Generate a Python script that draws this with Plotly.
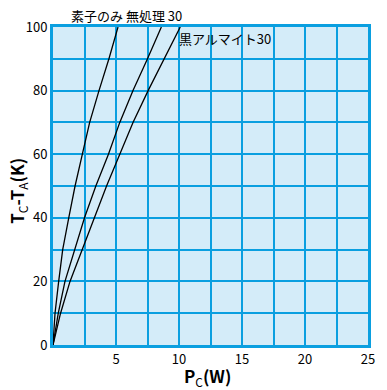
import plotly.graph_objects as go

temp_rise = [0, 10, 20, 30, 40, 50, 60, 70, 80, 90, 100]
power_element = [0, 0.16, 0.45, 0.77, 1.25, 1.75, 2.33, 2.91, 3.65, 4.44, 5.16]
power_untreated = [0, 0.42, 0.95, 1.7, 2.5, 3.4, 4.4, 5.3, 6.35, 7.5, 8.6]
power_black = [0, 0.6, 1.35, 2.3, 3.25, 4.25, 5.3, 6.35, 7.55, 8.85, 10.1]

x_tickvals = [0, 2.5, 5, 7.5, 10, 12.5, 15, 17.5, 20, 22.5, 25]
x_ticktext = ["", "", "5", "", "10", "", "15", "", "20", "", "25"]
y_tickvals = [0, 10, 20, 30, 40, 50, 60, 70, 80, 90, 100]
y_ticktext = ["0", "", "20", "", "40", "", "60", "", "80", "", "100"]

grid_blue = "#0a9fe0"
font_family = "Noto Sans CJK JP, DejaVu Sans, sans-serif"

fig = go.Figure()
for xs in (power_element, power_untreated, power_black):
    fig.add_trace(go.Scatter(x=xs, y=temp_rise, mode="lines",
                             line=dict(color="black", width=1.3),
                             showlegend=False, hoverinfo="skip"))

fig.add_annotation(x=5.16, y=100, xref="x", yref="y", text="素子のみ 無処理 30",
                   showarrow=False, xanchor="center", yanchor="bottom",
                   xshift=8, yshift=0, font=dict(size=13, color="black", family=font_family))
fig.add_annotation(x=10.1, y=96, xref="x", yref="y", text="黒アルマイト30",
                   showarrow=False, xanchor="left", yanchor="middle",
                   xshift=-3, yshift=1, font=dict(size=13, color="black", family=font_family))

# axis titles (paper coords span the plot area: width 315 px, height 318 px)
fig.add_annotation(x=0.49, y=-0.1, xref="paper", yref="paper",
                   text="<b>P</b><sub>C</sub><b>(W)</b>", showarrow=False,
                   xanchor="center", yanchor="middle", font=dict(size=17))
fig.add_annotation(x=-0.111, y=0.485, xref="paper", yref="paper",
                   text="<b>T</b><sub>C</sub><b>-T</b><sub>A</sub><b>(K)</b>", showarrow=False,
                   textangle=-90, xanchor="center", yanchor="middle", font=dict(size=17))

fig.update_layout(
    width=387, height=390,
    margin=dict(l=53, r=19, t=27, b=45, autoexpand=False),
    paper_bgcolor="white",
    plot_bgcolor="#d4ecf9",
    font=dict(family=font_family, size=12, color="black"),
    xaxis=dict(range=[0, 25], tickvals=x_tickvals, ticktext=x_ticktext,
               showgrid=True, gridcolor=grid_blue, gridwidth=2,
               showline=True, linecolor=grid_blue, linewidth=3, mirror=True,
               zeroline=False, ticks="", fixedrange=True, automargin=False,
               tickfont=dict(size=13)),
    yaxis=dict(range=[0, 100], tickvals=y_tickvals, ticktext=y_ticktext,
               showgrid=True, gridcolor=grid_blue, gridwidth=2,
               showline=True, linecolor=grid_blue, linewidth=3, mirror=True,
               zeroline=False, ticks="", fixedrange=True, automargin=False,
               tickfont=dict(size=13)),
)

fig.write_html("out.html")
